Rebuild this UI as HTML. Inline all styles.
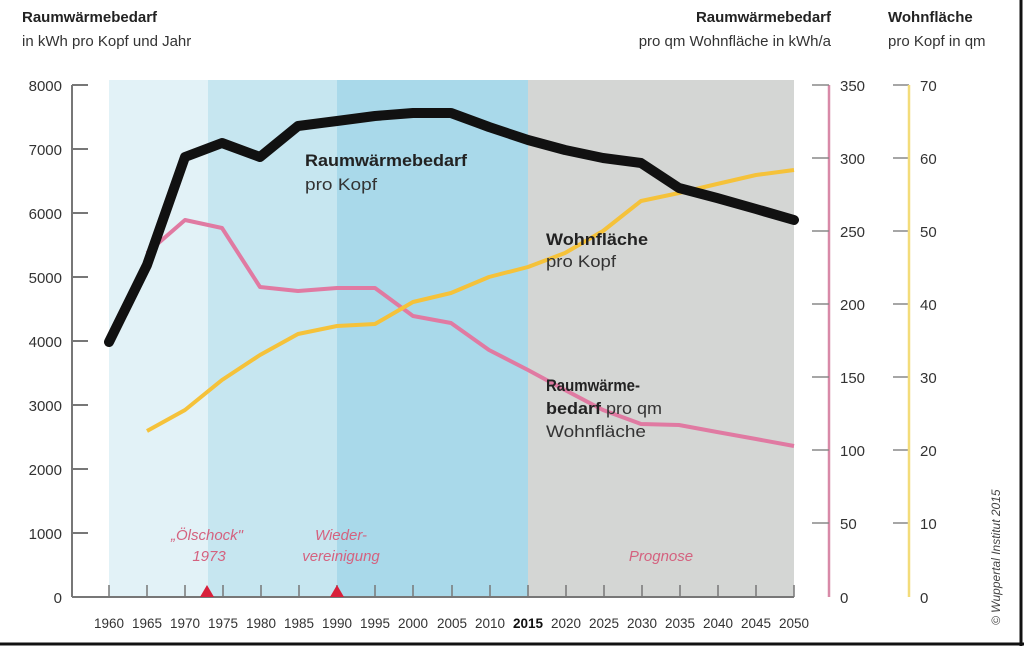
<!DOCTYPE html>
<html><head><meta charset="utf-8"><style>
body{margin:0;background:#fff;}
svg{display:block;font-family:"Liberation Sans",sans-serif;}
</style></head><body>
<svg width="1024" height="646" viewBox="0 0 1024 646">
<rect x="0" y="0" width="1024" height="646" fill="#fff"/>
<rect x="109" y="80" width="99" height="517" fill="#e2f2f7"/>
<rect x="208" y="80" width="129" height="517" fill="#c6e6f0"/>
<rect x="337" y="80" width="191" height="517" fill="#a9d9ea"/>
<rect x="528" y="80" width="266" height="517" fill="#d4d6d4"/>
<g stroke="#777" stroke-width="2">
<line x1="72" y1="85" x2="72" y2="597"/>
<line x1="72" y1="597" x2="794" y2="597"/>
<line x1="72" y1="85" x2="88" y2="85"/><line x1="72" y1="149" x2="88" y2="149"/>
<line x1="72" y1="213" x2="88" y2="213"/><line x1="72" y1="277" x2="88" y2="277"/>
<line x1="72" y1="341" x2="88" y2="341"/><line x1="72" y1="405" x2="88" y2="405"/>
<line x1="72" y1="469" x2="88" y2="469"/><line x1="72" y1="533" x2="88" y2="533"/>
</g>
<g stroke="#777" stroke-width="1.5">
<line x1="109" y1="585" x2="109" y2="597"/><line x1="147" y1="585" x2="147" y2="597"/>
<line x1="185" y1="585" x2="185" y2="597"/><line x1="223" y1="585" x2="223" y2="597"/>
<line x1="261" y1="585" x2="261" y2="597"/><line x1="299" y1="585" x2="299" y2="597"/>
<line x1="337" y1="585" x2="337" y2="597"/><line x1="375" y1="585" x2="375" y2="597"/>
<line x1="413" y1="585" x2="413" y2="597"/><line x1="452" y1="585" x2="452" y2="597"/>
<line x1="490" y1="585" x2="490" y2="597"/><line x1="528" y1="585" x2="528" y2="597"/>
<line x1="566" y1="585" x2="566" y2="597"/><line x1="604" y1="585" x2="604" y2="597"/>
<line x1="642" y1="585" x2="642" y2="597"/><line x1="680" y1="585" x2="680" y2="597"/>
<line x1="718" y1="585" x2="718" y2="597"/><line x1="756" y1="585" x2="756" y2="597"/>
<line x1="794" y1="585" x2="794" y2="597"/>
</g>
<g font-size="15" fill="#333" text-anchor="end">
<text x="62" y="91">8000</text><text x="62" y="155">7000</text><text x="62" y="219">6000</text>
<text x="62" y="283">5000</text><text x="62" y="347">4000</text><text x="62" y="411">3000</text>
<text x="62" y="475">2000</text><text x="62" y="539">1000</text><text x="62" y="603">0</text>
</g>
<g font-size="13.5" fill="#333" text-anchor="middle" transform="translate(0,628)">
<text x="109">1960</text><text x="147">1965</text><text x="185">1970</text><text x="223">1975</text>
<text x="261">1980</text><text x="299">1985</text><text x="337">1990</text><text x="375">1995</text>
<text x="413">2000</text><text x="452">2005</text><text x="490">2010</text><text x="528" font-weight="bold" fill="#111">2015</text>
<text x="566">2020</text><text x="604">2025</text><text x="642">2030</text><text x="680">2035</text>
<text x="718">2040</text><text x="756">2045</text><text x="794">2050</text>
</g>
<g stroke="#d88aa8" stroke-width="2.5"><line x1="829" y1="85" x2="829" y2="597"/></g>
<g stroke="#888" stroke-width="1.5">
<line x1="812" y1="85" x2="829" y2="85"/><line x1="812" y1="158" x2="829" y2="158"/>
<line x1="812" y1="231" x2="829" y2="231"/><line x1="812" y1="304" x2="829" y2="304"/>
<line x1="812" y1="377" x2="829" y2="377"/><line x1="812" y1="450" x2="829" y2="450"/>
<line x1="812" y1="523" x2="829" y2="523"/>
<line x1="893" y1="85" x2="909" y2="85"/><line x1="893" y1="158" x2="909" y2="158"/>
<line x1="893" y1="231" x2="909" y2="231"/><line x1="893" y1="304" x2="909" y2="304"/>
<line x1="893" y1="377" x2="909" y2="377"/><line x1="893" y1="450" x2="909" y2="450"/>
<line x1="893" y1="523" x2="909" y2="523"/>
</g>
<g stroke="#f3dc7a" stroke-width="2.5"><line x1="909" y1="85" x2="909" y2="597"/></g>
<g font-size="15" fill="#333">
<text x="840" y="91">350</text><text x="840" y="164">300</text><text x="840" y="237">250</text>
<text x="840" y="310">200</text><text x="840" y="383">150</text><text x="840" y="456">100</text>
<text x="840" y="529">50</text><text x="840" y="603">0</text>
<text x="920" y="91">70</text><text x="920" y="164">60</text><text x="920" y="237">50</text>
<text x="920" y="310">40</text><text x="920" y="383">30</text><text x="920" y="456">20</text>
<text x="920" y="529">10</text><text x="920" y="603">0</text>
</g>
<g font-size="15" fill="#333">
<text x="22" y="22" font-weight="bold" fill="#222">Raumwärmebedarf</text>
<text x="22" y="46">in kWh pro Kopf und Jahr</text>
<text x="831" y="22" font-weight="bold" fill="#222" text-anchor="end">Raumwärmebedarf</text>
<text x="831" y="46" text-anchor="end">pro qm Wohnfläche in kWh/a</text>
<text x="888" y="22" font-weight="bold" fill="#222">Wohnfläche</text>
<text x="888" y="46">pro Kopf in qm</text>
</g>
<polyline fill="none" stroke="#e07aa2" stroke-width="4" stroke-linejoin="round" points="147,253 185,220 222,228 260,287 298,291 337,288 375,288 413,316 451,323 489,350 528,370 565,390 603,410 641,424 679,425 717,432 756,439 794,446"/>
<polyline fill="none" stroke="#f5c23a" stroke-width="4" stroke-linejoin="round" points="147,431 185,410 222,380 260,355 298,334 337,326 375,324 413,302 451,293 489,277 528,267 565,253 603,231 641,201 679,193 717,184 756,175 794,170"/>
<polyline fill="none" stroke="#111" stroke-width="10" stroke-linejoin="round" stroke-linecap="round" points="109,342 147,265 185,157 222,143 260,157 298,126 337,121 375,116 413,113 451,113 489,127 528,140 565,150 603,158 641,163 679,188 717,198 756,209 794,220"/>
<g font-size="16.5" fill="#222">
<text x="305" y="166" font-weight="bold" textLength="162" lengthAdjust="spacingAndGlyphs">Raumwärmebedarf</text>
<text x="305" y="190" fill="#333" textLength="72" lengthAdjust="spacingAndGlyphs">pro Kopf</text>
<text x="546" y="245" font-weight="bold" textLength="102" lengthAdjust="spacingAndGlyphs">Wohnfläche</text>
<text x="546" y="267" fill="#333" textLength="70" lengthAdjust="spacingAndGlyphs">pro Kopf</text>
<text x="546" y="391" font-weight="bold" textLength="94" lengthAdjust="spacingAndGlyphs">Raumwärme-</text>
<text x="546" y="414" textLength="116" lengthAdjust="spacingAndGlyphs"><tspan font-weight="bold">bedarf</tspan><tspan fill="#333"> pro qm</tspan></text>
<text x="546" y="437" fill="#333" textLength="100" lengthAdjust="spacingAndGlyphs">Wohnfläche</text>
</g>
<g font-size="15" fill="#d4627f" font-style="italic" text-anchor="middle">
<text x="207" y="540">„Ölschock"</text><text x="209" y="561">1973</text>
<text x="341" y="540">Wieder-</text><text x="341" y="561">vereinigung</text>
<text x="661" y="561">Prognose</text>
</g>
<polygon points="200,597 214,597 207,585" fill="#d8203a"/>
<polygon points="330,597 344,597 337,585" fill="#d8203a"/>
<text x="0" y="0" font-size="12" font-style="italic" fill="#444" transform="translate(1000,625) rotate(-90)">© Wuppertal Institut 2015</text>
<line x1="1021" y1="0" x2="1021" y2="646" stroke="#111" stroke-width="3"/>
<line x1="0" y1="644" x2="1024" y2="644" stroke="#111" stroke-width="3"/>
</svg>
</body></html>
